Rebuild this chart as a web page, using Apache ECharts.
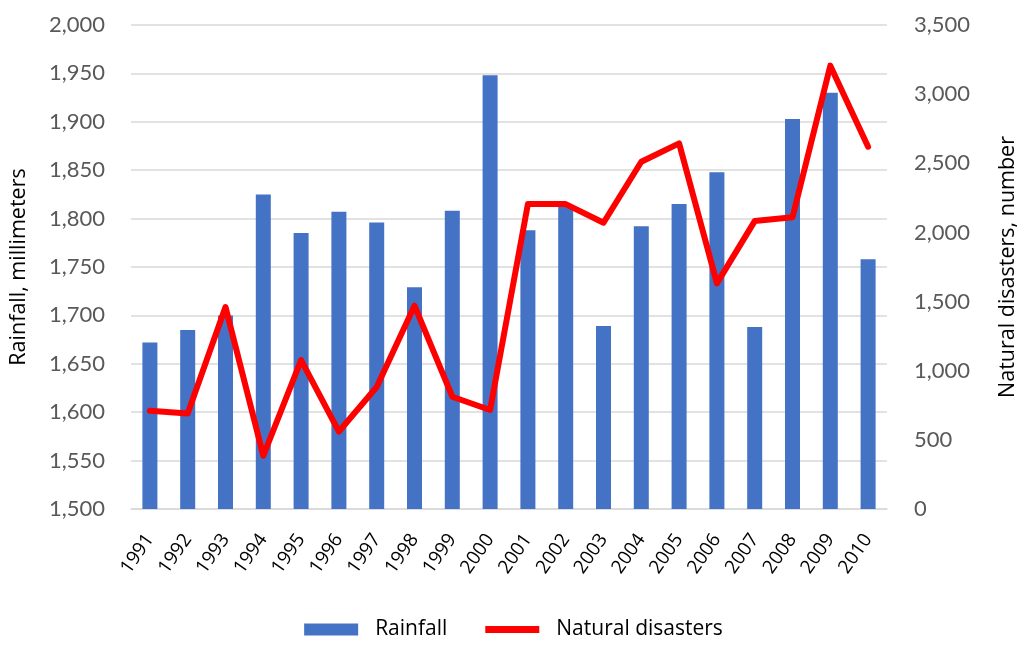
<!DOCTYPE html>
<html>
<head>
<meta charset="utf-8">
<script src="https://cdn.jsdelivr.net/npm/echarts@6/dist/echarts.min.js"></script>
<style>
  html, body { margin: 0; padding: 0; background: #fff; }
  #main { width: 1027px; height: 645px; }
</style>
</head>
<body>
<div id="main"></div>
<script>
// years on the x axis
const years = ['1991', '1992', '1993', '1994', '1995', '1996', '1997', '1998', '1999', '2000',
  '2001', '2002', '2003', '2004', '2005', '2006', '2007', '2008', '2009', '2010'];
// rainfall, millimeters (left axis)
const rainfall = [1672, 1685, 1700, 1825, 1785, 1807, 1796, 1729, 1808, 1948,
  1788, 1812, 1689, 1792, 1815, 1848, 1688, 1903, 1930, 1758];
// natural disasters, number (right axis)
const disasters = [710, 690, 1460, 385, 1077, 560, 882, 1470, 812, 716,
  2205, 2205, 2070, 2511, 2644, 1632, 2082, 2109, 3206, 2620];

const tickFont = 'Lato, sans-serif';
const textFont = '"Open Sans", sans-serif';
const tickColor = '#595959';
const gridColor = '#d9d9d9';

var chart = echarts.init(document.getElementById('main'));
var option = {
  animation: false,
  backgroundColor: '#fff',
  grid: { left: 127, right: 134, top: 25, bottom: 136 },
  legend: {
    bottom: 0,
    left: 'center',
    itemGap: 38,
    itemWidth: 54,
    itemHeight: 12,
    textStyle: { fontFamily: textFont, fontSize: 21, color: '#000', padding: [0, 0, 0, 12] },
    data: [
      { name: 'Rainfall', icon: 'rect' },
      { name: 'Natural disasters', icon: 'path://M0,0L54,0L54,7L0,7Z' }
    ]
  },
  xAxis: {
    type: 'category',
    data: years,
    axisTick: { show: false },
    axisLine: { lineStyle: { color: gridColor, width: 1.5 } },
    axisLabel: {
      rotate: 55,
      margin: 27,
      color: '#000',
      fontFamily: textFont,
      fontSize: 19
    }
  },
  yAxis: [
    {
      type: 'value',
      min: 1500,
      max: 2000,
      interval: 50,
      name: 'Rainfall, millimeters',
      nameLocation: 'middle',
      nameGap: 101,
      nameTextStyle: { fontFamily: textFont, fontSize: 21.5, color: '#000' },
      axisLine: { show: false },
      axisTick: { show: false },
      splitLine: { lineStyle: { color: gridColor, width: 1.5 } },
      axisLabel: {
        color: tickColor,
        fontFamily: tickFont,
        fontSize: 22,
        margin: 26,
        formatter: v => v.toLocaleString('en-US')
      }
    },
    {
      type: 'value',
      min: 0,
      max: 3500,
      interval: 500,
      name: 'Natural disasters, number',
      nameLocation: 'middle',
      nameGap: 110,
      nameRotate: 90,
      nameTextStyle: { fontFamily: textFont, fontSize: 21.5, color: '#000' },
      axisLine: { show: false },
      axisTick: { show: false },
      splitLine: { show: false },
      axisLabel: {
        color: tickColor,
        fontFamily: tickFont,
        fontSize: 22,
        margin: 27,
        formatter: v => v.toLocaleString('en-US')
      }
    }
  ],
  series: [
    {
      name: 'Rainfall',
      type: 'bar',
      data: rainfall,
      yAxisIndex: 0,
      barWidth: 15,
      itemStyle: { color: '#4472C4' }
    },
    {
      name: 'Natural disasters',
      type: 'line',
      data: disasters,
      yAxisIndex: 1,
      symbol: 'none',
      lineStyle: { color: '#FF0000', width: 6, cap: 'round', join: 'round' },
      itemStyle: { color: '#FF0000' }
    }
  ]
};
chart.setOption(option);
</script>
</body>
</html>
